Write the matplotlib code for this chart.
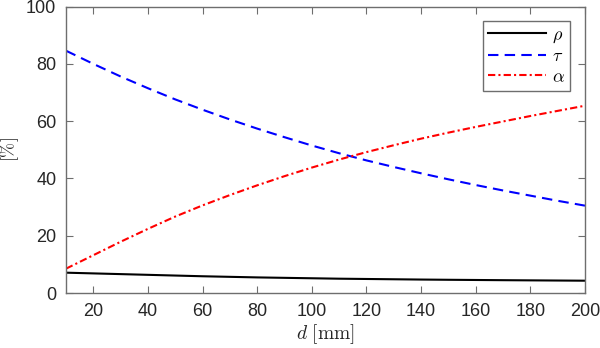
import matplotlib
matplotlib.use("Agg")
import matplotlib.pyplot as plt

# Reflectance, transmittance and absorptance vs. thickness
d_mm = [10, 20, 30, 40, 50, 60, 70, 80, 90, 100,
        110, 120, 130, 140, 150, 160, 170, 180, 190, 200]
rho = [7.1, 6.85, 6.6, 6.35, 6.1, 5.85, 5.65, 5.45, 5.3, 5.15,
       5.0, 4.9, 4.8, 4.7, 4.62, 4.55, 4.48, 4.42, 4.36, 4.3]
tau = [84.6, 80.0, 75.6, 71.5, 67.6, 64.0, 60.6, 57.4, 54.4, 51.5,
       48.8, 46.3, 44.0, 41.8, 39.7, 37.7, 35.8, 34.0, 32.2, 30.5]
alpha = [8.5, 13.2, 17.9, 22.4, 26.7, 30.6, 34.2, 37.6, 40.8, 43.8,
         46.6, 49.2, 51.6, 53.9, 56.0, 58.0, 59.9, 61.8, 63.6, 65.4]

x_ticks = [20, 40, 60, 80, 100, 120, 140, 160, 180, 200]
y_ticks = [0, 20, 40, 60, 80, 100]

plt.rcParams['font.family'] = ['Liberation Sans', 'DejaVu Sans']
plt.rcParams['mathtext.fontset'] = 'cm'

fig = plt.figure(figsize=(6.0, 3.48), dpi=100)
ax = fig.add_axes([0.11, 0.158, 0.865, 0.823])

lw = 1.5
ax.plot(d_mm, rho, color='black', lw=lw, label=r'$\rho$')
ax.plot(d_mm, tau, color='#0000ff', lw=lw, dashes=(5, 3), label=r'$\tau$')
ax.plot(d_mm, alpha, color='#ff0000', lw=lw, dashes=(3.5, 1.5, 1, 1.5), label=r'$\alpha$')

ax.set_xlim(10, 200)
ax.set_ylim(0, 100)
ax.set_xticks(x_ticks)
ax.set_yticks(y_ticks)

axis_grey = '#6e6e6e'
for sp in ax.spines.values():
    sp.set_color(axis_grey)
    sp.set_linewidth(1.0)
ax.tick_params(direction='in', length=5, width=0.8, color=axis_grey,
               labelsize=13, labelcolor='#262626', top=True, right=True, pad=7)

ax.set_xlabel(r'$d\ [\mathrm{mm}]$', fontsize=14, color='#262626', labelpad=2)
ax.set_ylabel(r'$[\%]$', fontsize=13, color='#262626')
ax.yaxis.set_label_coords(-0.086, 0.5)

leg = ax.legend(loc='upper right', bbox_to_anchor=(0.971, 0.95), fontsize=13,
                handlelength=3.2, handletextpad=0.3, borderpad=0.3,
                labelspacing=0.2, borderaxespad=0, fancybox=False, framealpha=1)
leg.get_frame().set_edgecolor(axis_grey)
leg.get_frame().set_linewidth(1.0)

fig.savefig('out.png', dpi=100)
